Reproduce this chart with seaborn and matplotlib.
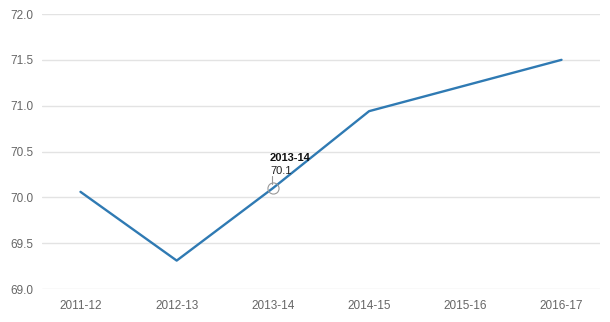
import matplotlib
matplotlib.use("Agg")
import matplotlib.pyplot as plt
import seaborn as sns
import pandas as pd

years = ["2011-12", "2012-13", "2013-14", "2014-15", "2015-16", "2016-17"]
values = [70.06, 69.31, 70.10, 70.94, 71.22, 71.50]
y_ticks = [69.0, 69.5, 70.0, 70.5, 71.0, 71.5, 72.0]
hl_index = 2

sns.set_style("white")
plt.rcParams['font.family'] = ['Arial', 'Liberation Sans', 'DejaVu Sans']

df = pd.DataFrame({"year": years, "value": values, "x": range(len(years))})

fig = plt.figure(figsize=(6.1, 3.22), dpi=100)
ax = fig.add_axes([42/610, 1-289/322, (600-42)/610, (289-14)/322])
sns.lineplot(data=df, x="x", y="value", ax=ax, color="#2f7ab3", linewidth=1.7)

ax.set_xlim(-0.4, len(years) - 0.6)
ax.set_ylim(69.0, 72.0)
ax.set_yticks(y_ticks)
ax.set_yticklabels([f"{t:.1f}" for t in y_ticks])
ax.set_xticks(range(len(years)))
ax.set_xticklabels(years)
ax.grid(axis="y", color="#e3e3e3", linewidth=1)
ax.set_axisbelow(True)
for s in ax.spines.values():
    s.set_visible(False)
ax.tick_params(axis="both", length=0, labelsize=8.5, colors="#666666")
ax.tick_params(axis="x", pad=8)
ax.tick_params(axis="y", pad=6)
ax.set_xlabel("")
ax.set_ylabel("")

# highlight marker and tooltip
hx, hy = hl_index, values[hl_index]
ax.plot([hx], [hy], marker="o", markersize=8, markerfacecolor="none",
        markeredgecolor="#999999", markeredgewidth=0.8, zorder=5)
ax.plot([hx - 0.005, hx - 0.005], [hy + 0.05, hy + 0.13], color="#999999", lw=0.8)
ax.text(hx - 0.03, hy + 0.13, f"{hy:.1f}", fontsize=8, color="#222222",
        ha="left", va="bottom")
ax.text(hx - 0.03, hy + 0.27, years[hl_index], fontsize=8, color="#111111",
        fontweight="bold", ha="left", va="bottom")

fig.savefig("out.png", dpi=100)
